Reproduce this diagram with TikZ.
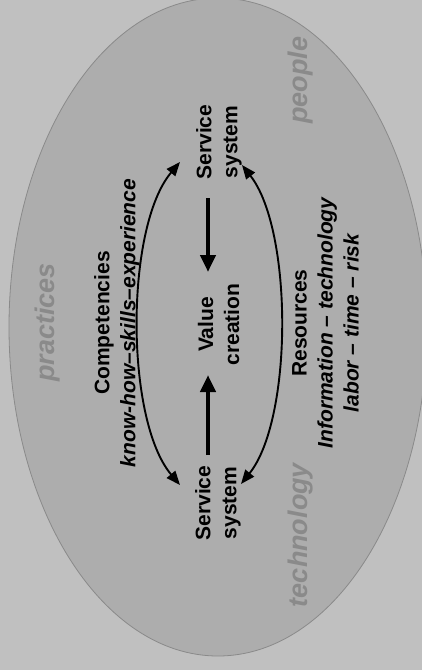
\documentclass[tikz,border=0pt]{standalone}
\usepackage{fontspec}
\setmainfont{Liberation Sans}
\usetikzlibrary{arrows.meta}
\definecolor{bgcol}{HTML}{C0C0C0}
\definecolor{ellfill}{HTML}{ADADAD}
\definecolor{ellline}{HTML}{8A8A8A}
\definecolor{wordgray}{HTML}{8A8A8A}
\begin{document}
\begin{tikzpicture}[x=1pt,y=-1pt,
  lbl/.style={rotate=90, inner sep=0pt, align=center,
    font=\fontsize{21}{26}\selectfont\bfseries},
  word/.style={rotate=90, inner sep=0pt, text=wordgray,
    font=\fontsize{27}{32}\selectfont\bfseries\itshape},
  bigarrow/.style={line width=4.8pt, -{Triangle[length=17pt,width=15pt]}},
  cyclearrow/.style={line width=1.9pt,
    {Triangle[length=14pt,width=11pt]}-{Triangle[length=14pt,width=11pt]}}]
\useasboundingbox (0,0) rectangle (422,670);
\clip (0,0) rectangle (422,670);
\fill[bgcol] (0,0) rectangle (422,670);
\filldraw[fill=ellfill, draw=ellline, line width=0.8pt] (218,327) ellipse [x radius=209, y radius=329];

% gray words
\node[word] (pr) at (48,322.5) {practices};
\node[word] (pe) at (301,80) {people};
\node[word] (te) at (301,535) {technology};

% black labels
\node[lbl] (st) at (219,142) {Service\\system};
\node[lbl] (vc) at (218.5,324.5) {Value\\creation};
\node[lbl] (sb) at (218,503) {Service\\system};
\node[lbl] (comp) at (117,323) {Competencies\\{\itshape know-how--skills--experience}};
\node[lbl] (res) at (325.5,323) {Resources\\{\itshape Information -- technology}\\{\itshape labor -- time -- risk}};

% thick arrows
\coordinate (ta) at (208,198);
\coordinate (tb) at (208,272);
\coordinate (ba) at (208,455);
\coordinate (bb) at (208,375);
\draw[bigarrow] (ta) -- (tb);
\draw[bigarrow] (ba) -- (bb);

% curved arrows
\coordinate (l1) at (180,162);
\coordinate (l2) at (180,485);
\coordinate (r1) at (242,165);
\coordinate (r2) at (241,484);
\draw[cyclearrow] (l1) .. controls (125,227) and (125,420) .. (l2);
\draw[cyclearrow] (r1) .. controls (293,230) and (293,419) .. (r2);
\end{tikzpicture}
\end{document}
